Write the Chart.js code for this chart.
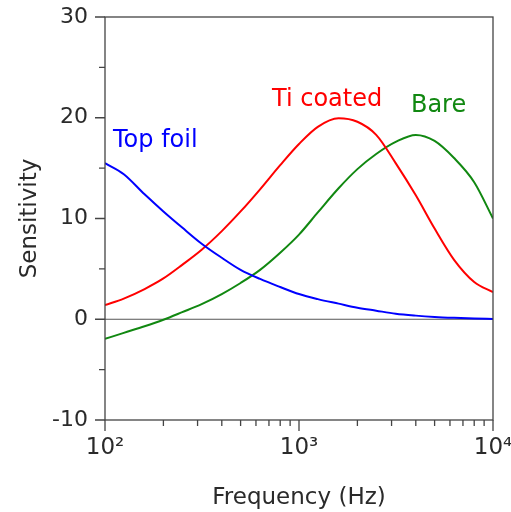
<!DOCTYPE html>
<html>
<head>
<meta charset="utf-8">
<script src="https://cdn.jsdelivr.net/npm/chart.js@4"></script>
<style>
  html, body { margin: 0; padding: 0; background: #fff; }
  #wrap { width: 511px; height: 512px; position: relative; }
</style>
</head>
<body>
<div id="wrap"><canvas id="chart" width="511" height="512"></canvas></div>
<script>
// Sensitivity vs frequency — three sensor variants, log x axis
(function () {
  "use strict";

  var FONT = "'DejaVu Sans', sans-serif";
  var INK = "#2a2a2a";
  var FRAME = "#444";

  // Frequency grid (Hz)
  var freqs = [100, 125, 160, 200, 250, 315, 400, 500, 630, 800, 1000,
    1250, 1600, 2000, 2500, 3150, 4000, 5000, 6300, 8000, 10000];

  // Series values
  var topFoil = [15.5, 14.4, 12.4, 10.7, 9.1, 7.5, 6.1, 4.9, 4.0, 3.2, 2.5,
    2.0, 1.55, 1.15, 0.85, 0.55, 0.36, 0.23, 0.14, 0.07, 0.03];
  var tiCoated = [1.4, 2.05, 3.0, 4.05, 5.4, 6.9, 8.75, 10.7, 12.9, 15.3, 17.4,
    19.1, 19.95, 19.6, 18.3, 15.5, 12.3, 9.0, 5.9, 3.7, 2.7];
  var bare = [-1.95, -1.35, -0.7, -0.05, 0.7, 1.5, 2.5, 3.6, 4.9, 6.6, 8.4,
    10.6, 13.0, 14.9, 16.4, 17.6, 18.3, 17.7, 16.0, 13.6, 10.0];

  var seriesNames = ["Top foil", "Ti coated", "Bare"];
  var seriesColors = ["#0000ff", "#ff0000", "#118811"];

  // Axis ticks
  var xMajor = [100, 1000, 10000];
  var xMajorLabels = ["10\u00b2", "10\u00b3", "10\u2074"];
  var yMin = -10, yMax = 30, yStep = 5;

  // In-plot series labels, placed in data coordinates (Hz, sensitivity)
  var labelFreqs = [110, 726, 3776];
  var labelValues = [17.7, 21.75, 21.15];

  function pairs(ys) {
    return freqs.map(function (f, i) { return { x: f, y: ys[i] }; });
  }

  var xTickValues = [];
  for (var dec = 100; dec < 10000; dec *= 10) {
    for (var m = 1; m < 10; m++) xTickValues.push(dec * m);
  }
  xTickValues.push(10000);

  function noOverflow(axis) {
    axis.paddingTop = 0;
    axis.paddingBottom = 0;
    axis.paddingLeft = 0;
    axis.paddingRight = 0;
  }

  var frame = {
    id: "frame",
    beforeDatasetsDraw: function (chart) {
      var ctx = chart.ctx, a = chart.chartArea, y = chart.scales.y;
      var y0 = y.getPixelForValue(0);
      ctx.save();
      ctx.strokeStyle = "#555";
      ctx.lineWidth = 1;
      ctx.beginPath();
      ctx.moveTo(a.left, y0);
      ctx.lineTo(a.right, y0);
      ctx.stroke();
      ctx.restore();
    },
    afterDatasetsDraw: function (chart) {
      var ctx = chart.ctx, a = chart.chartArea;
      var xs = chart.scales.x, ys = chart.scales.y;
      ctx.save();
      ctx.strokeStyle = FRAME;
      ctx.lineWidth = 1.3;
      ctx.strokeRect(a.left, a.top, a.right - a.left, a.bottom - a.top);

      ctx.beginPath();
      xTickValues.forEach(function (v) {
        var px = xs.getPixelForValue(v);
        var len = xMajor.indexOf(v) >= 0 ? 11 : 6;
        ctx.moveTo(px, a.bottom);
        ctx.lineTo(px, a.bottom + len);
      });
      for (var v = yMin; v <= yMax; v += yStep) {
        var py = ys.getPixelForValue(v);
        var len = v % 10 === 0 ? 10 : 6;
        ctx.moveTo(a.left, py);
        ctx.lineTo(a.left - len, py);
      }
      ctx.stroke();

      ctx.font = "24px " + FONT;
      ctx.textAlign = "left";
      ctx.textBaseline = "middle";
      seriesNames.forEach(function (name, i) {
        ctx.fillStyle = seriesColors[i];
        ctx.fillText(name, xs.getPixelForValue(labelFreqs[i]), ys.getPixelForValue(labelValues[i]));
      });
      ctx.restore();
    }
  };

  var ctx = document.getElementById("chart").getContext("2d");
  new Chart(ctx, {
    type: "line",
    data: {
      datasets: [topFoil, tiCoated, bare].map(function (ys, i) {
        return {
          label: seriesNames[i],
          data: pairs(ys),
          borderColor: seriesColors[i],
          borderWidth: 2,
          pointRadius: 0,
          cubicInterpolationMode: "monotone",
          fill: false
        };
      })
    },
    options: {
      responsive: false,
      animation: false,
      layout: { padding: { top: 17, right: 18, left: 0, bottom: 0 } },
      plugins: { legend: { display: false }, tooltip: { enabled: false } },
      scales: {
        x: {
          type: "logarithmic",
          min: 100,
          max: 10000,
          afterBuildTicks: function (axis) {
            axis.ticks = xTickValues.map(function (v) { return { value: v }; });
          },
          afterFit: function (axis) { axis.height = 92; noOverflow(axis); },
          grid: { display: false, drawTicks: false },
          border: { display: false },
          ticks: {
            autoSkip: false,
            maxRotation: 0,
            padding: 14,
            color: INK,
            font: { family: FONT, size: 23 },
            callback: function (v) {
              var k = xMajor.indexOf(v);
              return k >= 0 ? xMajorLabels[k] : "";
            }
          },
          title: {
            display: true,
            text: "Frequency (Hz)",
            color: INK,
            font: { family: FONT, size: 23 },
            padding: { top: 4, bottom: 0 }
          }
        },
        y: {
          min: yMin,
          max: yMax,
          afterFit: function (axis) { axis.width = 105; noOverflow(axis); },
          grid: { display: false, drawTicks: false },
          border: { display: false },
          ticks: {
            stepSize: yStep,
            padding: 17,
            color: INK,
            font: { family: FONT, size: 22 },
            callback: function (v) { return v % 10 === 0 ? String(v) : ""; }
          },
          title: {
            display: true,
            text: "Sensitivity",
            color: INK,
            font: { family: FONT, size: 23 },
            padding: { top: 16, bottom: 0 }
          }
        }
      }
    },
    plugins: [frame]
  });
})();
</script>
</body>
</html>
